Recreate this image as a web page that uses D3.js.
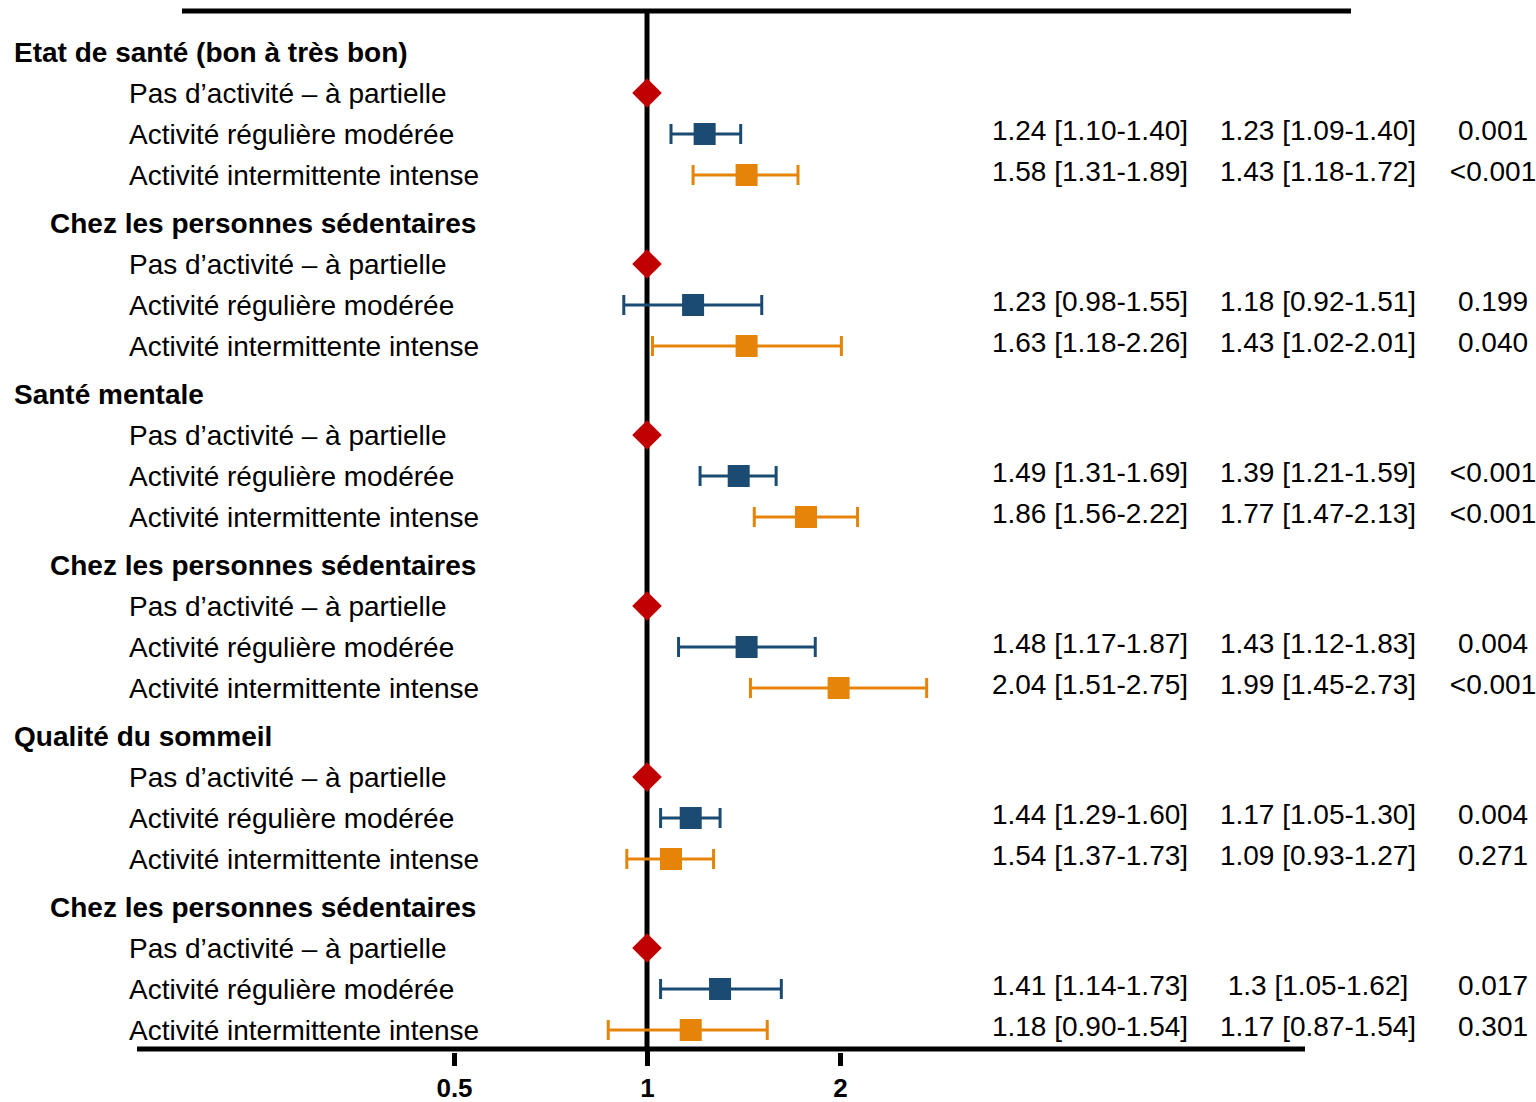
<!DOCTYPE html>
<html>
<head>
<meta charset="utf-8">
<script src="https://cdn.jsdelivr.net/npm/d3@7"></script>
<style>
  html, body { margin: 0; padding: 0; background: #fff; }
  text { font-family: Arial, "Liberation Sans", sans-serif; fill: #000; }
</style>
</head>
<body>
<div id="chart"></div>
<script>
// forest plot - odds ratios by activity level

const blockTitles = [
  "Etat de santé (bon à très bon)",
  "Chez les personnes sédentaires",
  "Santé mentale",
  "Chez les personnes sédentaires",
  "Qualité du sommeil",
  "Chez les personnes sédentaires"
];
const blockIsSub = [false, true, false, true, false, true];

const categories = [
  "Pas d’activité – à partielle",
  "Activité régulière modérée",
  "Activité intermittente intense"
];

const referenceOR = 1;

// adjusted OR (drawn markers)
const modOR = [1.23, 1.18, 1.39, 1.43, 1.17, 1.3];
const modLow = [1.09, 0.92, 1.21, 1.12, 1.05, 1.05];
const modHigh = [1.40, 1.51, 1.59, 1.83, 1.30, 1.62];
const intOR = [1.43, 1.43, 1.77, 1.99, 1.09, 1.17];
const intLow = [1.18, 1.02, 1.47, 1.45, 0.93, 0.87];
const intHigh = [1.72, 2.01, 2.13, 2.73, 1.27, 1.54];

// table columns
const crudeMod = ["1.24 [1.10-1.40]", "1.23 [0.98-1.55]", "1.49 [1.31-1.69]", "1.48 [1.17-1.87]", "1.44 [1.29-1.60]", "1.41 [1.14-1.73]"];
const crudeInt = ["1.58 [1.31-1.89]", "1.63 [1.18-2.26]", "1.86 [1.56-2.22]", "2.04 [1.51-2.75]", "1.54 [1.37-1.73]", "1.18 [0.90-1.54]"];
const adjMod = ["1.23 [1.09-1.40]", "1.18 [0.92-1.51]", "1.39 [1.21-1.59]", "1.43 [1.12-1.83]", "1.17 [1.05-1.30]", "1.3 [1.05-1.62]"];
const adjInt = ["1.43 [1.18-1.72]", "1.43 [1.02-2.01]", "1.77 [1.47-2.13]", "1.99 [1.45-2.73]", "1.09 [0.93-1.27]", "1.17 [0.87-1.54]"];
const pMod = ["0.001", "0.199", "<0.001", "0.004", "0.004", "0.017"];
const pInt = ["<0.001", "0.040", "<0.001", "<0.001", "0.271", "0.301"];

const xTicks = [0.5, 1, 2];

const W = 1536, H = 1102;
const BLUE = '#1B4A72', ORANGE = '#E6840A', RED = '#C00000';

const svg = d3.select('#chart').append('svg')
  .attr('width', W)
  .attr('height', H)
  .attr('viewBox', [0, 0, W, H]);

const x = d3.scaleLog().domain([0.5, 2]).range([454, 840]);
const yBlock = d3.scaleLinear().domain([0, blockTitles.length - 1]).range([52, 907]);
const yRow = d3.scalePoint().domain([0, 1, 2, 3]).range([0, 123]);

const axisY = 1049;

// frame lines
svg.append('line')
  .attr('x1', 182).attr('x2', 1351)
  .attr('y1', 11).attr('y2', 11)
  .attr('stroke', '#000').attr('stroke-width', 5);

svg.append('line')
  .attr('x1', x(referenceOR)).attr('x2', x(referenceOR))
  .attr('y1', 9).attr('y2', axisY)
  .attr('stroke', '#000').attr('stroke-width', 5);

// x axis
const axis = svg.append('g')
  .attr('transform', `translate(0,${axisY})`)
  .call(d3.axisBottom(x)
    .tickValues(xTicks)
    .tickFormat(d3.format(''))
    .tickSize(17)
    .tickSizeOuter(0)
    .tickPadding(13));
axis.select('.domain').remove();
axis.selectAll('.tick line').attr('stroke', '#000').attr('stroke-width', 5);
axis.selectAll('.tick text')
  .attr('fill', '#000')
  .attr('font-size', 26)
  .attr('font-weight', 'bold')
  .attr('font-family', 'Arial, "Liberation Sans", sans-serif');
axis.selectAll('.tick')
  .filter(d => d !== referenceOR)
  .select('line').attr('y1', 4);

svg.append('line')
  .attr('x1', 137).attr('x2', 1305)
  .attr('y1', axisY).attr('y2', axisY)
  .attr('stroke', '#000').attr('stroke-width', 5);

// blocks
const blocks = blockTitles.map((t, i) => ({
  i, title: t, sub: blockIsSub[i],
  series: [
    { key: 'mod', color: BLUE, or: modOR[i], lo: modLow[i], hi: modHigh[i], crude: crudeMod[i], adj: adjMod[i], p: pMod[i], row: 2 },
    { key: 'int', color: ORANGE, or: intOR[i], lo: intLow[i], hi: intHigh[i], crude: crudeInt[i], adj: adjInt[i], p: pInt[i], row: 3 }
  ]
}));

const g = svg.selectAll('g.block')
  .data(blocks)
  .enter().append('g')
  .attr('class', 'block')
  .attr('transform', d => `translate(0,${yBlock(d.i)})`);

// headers
g.append('text')
  .attr('x', d => d.sub ? 50 : 14)
  .attr('y', yRow(0))
  .attr('dy', '0.35em')
  .attr('font-size', 28)
  .attr('font-weight', 'bold')
  .text(d => d.title);

// category labels
g.selectAll('text.cat')
  .data(categories)
  .enter().append('text')
  .attr('class', 'cat')
  .attr('x', 129)
  .attr('y', (d, j) => yRow(j + 1))
  .attr('dy', '0.35em')
  .attr('font-size', 28)
  .text(d => d);

// reference diamond
g.append('path')
  .attr('d', d3.symbol(d3.symbolDiamond2, 560)())
  .attr('transform', `translate(${x(referenceOR)},${yRow(1)})`)
  .attr('fill', RED);

// error bars + squares
const s = g.selectAll('g.series')
  .data(d => d.series)
  .enter().append('g')
  .attr('class', 'series')
  .attr('transform', d => `translate(0,${yRow(d.row)})`);

s.append('line')
  .attr('x1', d => x(d.lo)).attr('x2', d => x(d.hi))
  .attr('stroke', d => d.color).attr('stroke-width', 3);
s.append('line')
  .attr('x1', d => x(d.lo)).attr('x2', d => x(d.lo))
  .attr('y1', -10).attr('y2', 10)
  .attr('stroke', d => d.color).attr('stroke-width', 3);
s.append('line')
  .attr('x1', d => x(d.hi)).attr('x2', d => x(d.hi))
  .attr('y1', -10).attr('y2', 10)
  .attr('stroke', d => d.color).attr('stroke-width', 3);
s.append('rect')
  .attr('x', d => x(d.or) - 11).attr('y', -11)
  .attr('width', 22).attr('height', 22)
  .attr('fill', d => d.color);

// table text
const cols = [
  { key: 'crude', cx: 1090 },
  { key: 'adj', cx: 1318 },
  { key: 'p', cx: 1493 }
];
cols.forEach(c => {
  s.append('text')
    .attr('x', c.cx)
    .attr('y', -4)
    .attr('dy', '0.35em')
    .attr('text-anchor', 'middle')
    .attr('font-size', 28)
    .text(d => d[c.key]);
});
</script>
</body>
</html>
